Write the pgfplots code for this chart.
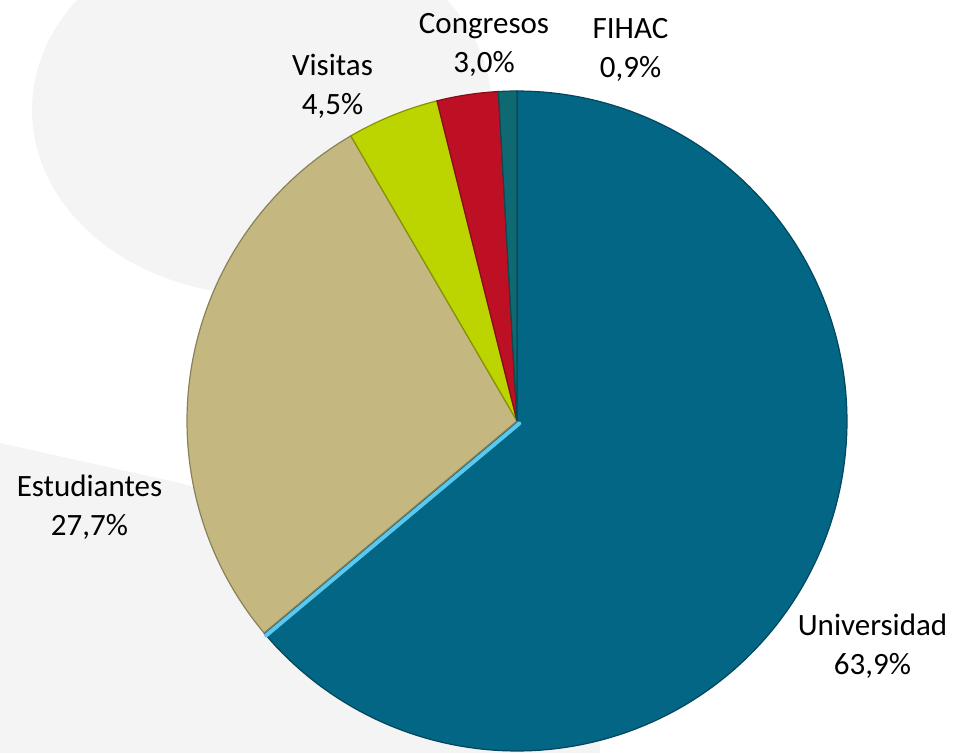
\documentclass[border=0pt]{standalone}
\usepackage{pgfplots}
\pgfplotsset{compat=1.18}
\usepackage{pgfplotstable}
\usepackage{fontspec}
\setmainfont{Carlito}

\definecolor{cUni}{HTML}{036685}
\definecolor{cEst}{HTML}{C4B880}
\definecolor{cVis}{HTML}{BCD400}
\definecolor{cCon}{HTML}{BE1024}
\definecolor{cFih}{HTML}{0F6973}
\definecolor{cHi}{HTML}{5CC8EE}
\definecolor{wm}{HTML}{F4F4F4}

\pgfplotstableread{
name value col
Universidad 63.9 cUni
Estudiantes 27.7 cEst
Visitas 4.5 cVis
Congresos 3.0 cCon
FIHAC 0.9 cFih
}\piedata

\begin{document}
\begin{tikzpicture}
\useasboundingbox (0,0) rectangle (955pt,753pt);
\begin{axis}[
  at={(0,0)}, anchor=south west,
  width=955pt, height=753pt, scale only axis,
  xmin=0, xmax=955, ymin=0, ymax=753,
  hide axis, clip=true,
]
% faint watermark in the background
\fill[wm] (axis cs:262,643) ellipse [x radius=230, y radius=185];
\fill[wm] (axis cs:0,310) -- (axis cs:180,270) -- (axis cs:420,200) -- (axis cs:600,150) -- (axis cs:600,0) -- (axis cs:0,0) -- cycle;

% pie wedges, clockwise from the top
\def\cx{517}\def\cy{332}\def\R{330}
\gdef\cum{0}
\pgfplotsinvokeforeach{0,...,4}{
  \pgfplotstablegetelem{#1}{value}\of\piedata \let\pval\pgfplotsretval
  \pgfplotstablegetelem{#1}{col}\of\piedata \let\pcol\pgfplotsretval
  \pgfmathsetmacro\angA{90-3.6*\cum}
  \pgfmathsetmacro\angB{90-3.6*(\cum+\pval)}
  \pgfmathsetmacro\newcum{\cum+\pval}\xdef\cum{\newcum}
  \edef\doplot{\noexpand\addplot[fill=\pcol, draw=\pcol!70!black, line width=1.2pt, domain=\angB:\angA, samples=150]
    ({\cx+\R*cos(x)},{\cy+\R*sin(x)}) -- (axis cs:\cx,\cy) -- cycle;}
  \doplot
}
% light highlight along the edge of Universidad
\addplot[draw=cHi, line width=4pt, line cap=round] coordinates {(519.2,329.5) (266.2,117.6)};

% labels
\node[align=center, font=\fontsize{31}{39}\selectfont] at (axis cs:872.5,106.5) {Universidad\\63,9\%};
\node[align=center, font=\fontsize{31}{39}\selectfont] at (axis cs:89.5,246) {Estudiantes\\27,7\%};
\node[align=center, font=\fontsize{31}{39}\selectfont] at (axis cs:332.5,667) {Visitas\\4,5\%};
\node[align=center, font=\fontsize{31}{39}\selectfont] at (axis cs:484,708) {Congresos\\3,0\%};
\node[align=center, font=\fontsize{31}{39}\selectfont] at (axis cs:630.5,703.5) {FIHAC\\0,9\%};
\end{axis}
\end{tikzpicture}
\end{document}
